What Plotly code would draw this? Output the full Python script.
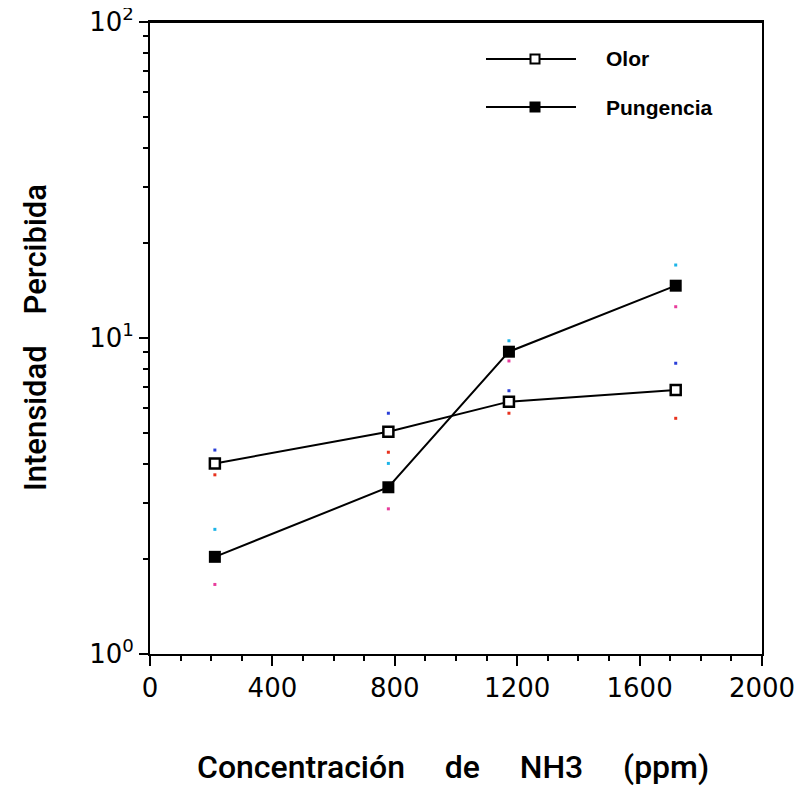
import plotly.graph_objects as go

# Data
conc = [212, 779, 1173, 1718]
olor = [4.01, 5.05, 6.29, 6.84]
olor_hi = [4.42, 5.78, 6.81, 8.32]
olor_lo = [3.69, 4.35, 5.78, 5.57]
pung = [2.03, 3.37, 9.05, 14.64]
pung_hi = [2.48, 4.01, 9.80, 17.02]
pung_lo = [1.66, 2.88, 8.46, 12.56]

x_ticks = [0, 400, 800, 1200, 1600, 2000]
y_ticks = [1, 10, 100]
y_ticktext = ["10<sup>0</sup>", "10<sup>1</sup>", "10<sup>2</sup>"]
y_minor = [2, 3, 4, 5, 6, 7, 8, 9, 20, 30, 40, 50, 60, 70, 80, 90]

fig = go.Figure()

# error-bar end dots
for vals, col in [(olor_hi, "#2a3fd8"), (olor_lo, "#e8321e"),
                  (pung_hi, "#1cb4e8"), (pung_lo, "#e83c9c")]:
    fig.add_trace(go.Scatter(x=conc, y=vals, mode="markers",
                             marker=dict(symbol="square", size=3, color=col,
                                         line=dict(width=0)),
                             showlegend=False, hoverinfo="skip"))

fig.add_trace(go.Scatter(x=conc, y=olor, mode="lines+markers", name="Olor",
                         line=dict(color="black", width=2),
                         marker=dict(symbol="square", size=10, color="white",
                                     line=dict(color="black", width=2.5)),
                         showlegend=False))
fig.add_trace(go.Scatter(x=conc, y=pung, mode="lines+markers", name="Pungencia",
                         line=dict(color="black", width=2),
                         marker=dict(symbol="square", size=12, color="black",
                                     line=dict(color="black", width=0)),
                         showlegend=False))

# page has an 8px body margin: figure is drawn 8px right/down
OFF = 8
FW, FH = 802, 792
L, R, T, B = 150 - OFF, 762 - OFF, 22 - OFF, 654 - OFF
W, H = float(R - L), float(B - T)
def px_x(p):
    return (p - OFF - L) / W
def px_y(p):
    return 1 - (p - OFF - T) / H

shapes = [dict(type="line", xref="paper", yref="paper", x0=0, x1=1, y0=1, y1=1,
               line=dict(color="black", width=2))]
annotations = []
for i, (label, filled) in enumerate([("Olor", False), ("Pungencia", True)]):
    yy = [59, 107][i]
    shapes.append(dict(type="line", xref="paper", yref="paper",
                       x0=px_x(486), x1=px_x(576), y0=px_y(yy), y1=px_y(yy),
                       line=dict(color="black", width=2)))
    s = 4.5 if not filled else 5.5
    shapes.append(dict(type="rect", xref="paper", yref="paper",
                       x0=px_x(535 - s), x1=px_x(535 + s),
                       y0=px_y(yy + s), y1=px_y(yy - s),
                       fillcolor="black" if filled else "white",
                       line=dict(color="black", width=2 if not filled else 0)))
    annotations.append(dict(text=label, xref="paper", yref="paper",
                            x=px_x(607), y=px_y(yy), xanchor="left", yanchor="middle",
                            xshift=-3, showarrow=False,
                            font=dict(family="Liberation Sans", size=21, color="black",
                                      weight="bold")))

# axis titles
annotations.append(dict(text="Concentración     de     NH3     (ppm)", xref="paper",
                        yref="paper", x=px_x(453), y=px_y(767), xanchor="center",
                        yanchor="middle", showarrow=False,
                        font=dict(family="Roboto", size=32, color="black",
                                  weight=500)))
annotations.append(dict(text="Intensidad    Percibida", xref="paper", yref="paper",
                        x=px_x(35), y=px_y(338), xanchor="center", yanchor="middle",
                        textangle=-90, showarrow=False,
                        font=dict(family="Roboto", size=31, color="black",
                                  weight=500)))

fig.update_layout(
    width=FW, height=FH,
    margin=dict(l=L, r=FW - R, t=T, b=FH - B),
    paper_bgcolor="white", plot_bgcolor="white",
    shapes=shapes, annotations=annotations,
    font=dict(family="DejaVu Sans", color="black"),
    xaxis=dict(
        range=[0, 2000], tickvals=x_ticks, ticks="outside", ticklen=10, tickwidth=2,
        tickcolor="black", showline=True, linecolor="black", linewidth=2,
        mirror=True, showgrid=False, zeroline=False, automargin=False,
        ticklabeloverflow="allow",
        tickfont=dict(family="DejaVu Sans", size=26),
        minor=dict(dtick=100, ticks="outside", ticklen=5, tickwidth=2,
                   tickcolor="black", showgrid=False),
    ),
    yaxis=dict(
        type="log", range=[0, 2], tickmode="array", tickvals=y_ticks,
        ticktext=y_ticktext, ticks="outside", ticklen=9, tickwidth=2,
        tickcolor="black", showline=True, linecolor="black", linewidth=2,
        mirror=True, showgrid=False, zeroline=False, automargin=False,
        ticklabeloverflow="allow",
        tickfont=dict(family="DejaVu Sans", size=26),
        minor=dict(tickmode="array", tickvals=y_minor, ticks="outside", ticklen=5,
                   tickwidth=2, tickcolor="black", showgrid=False),
    ),
)

fig.write_html("out.html", config={"displayModeBar": False})
